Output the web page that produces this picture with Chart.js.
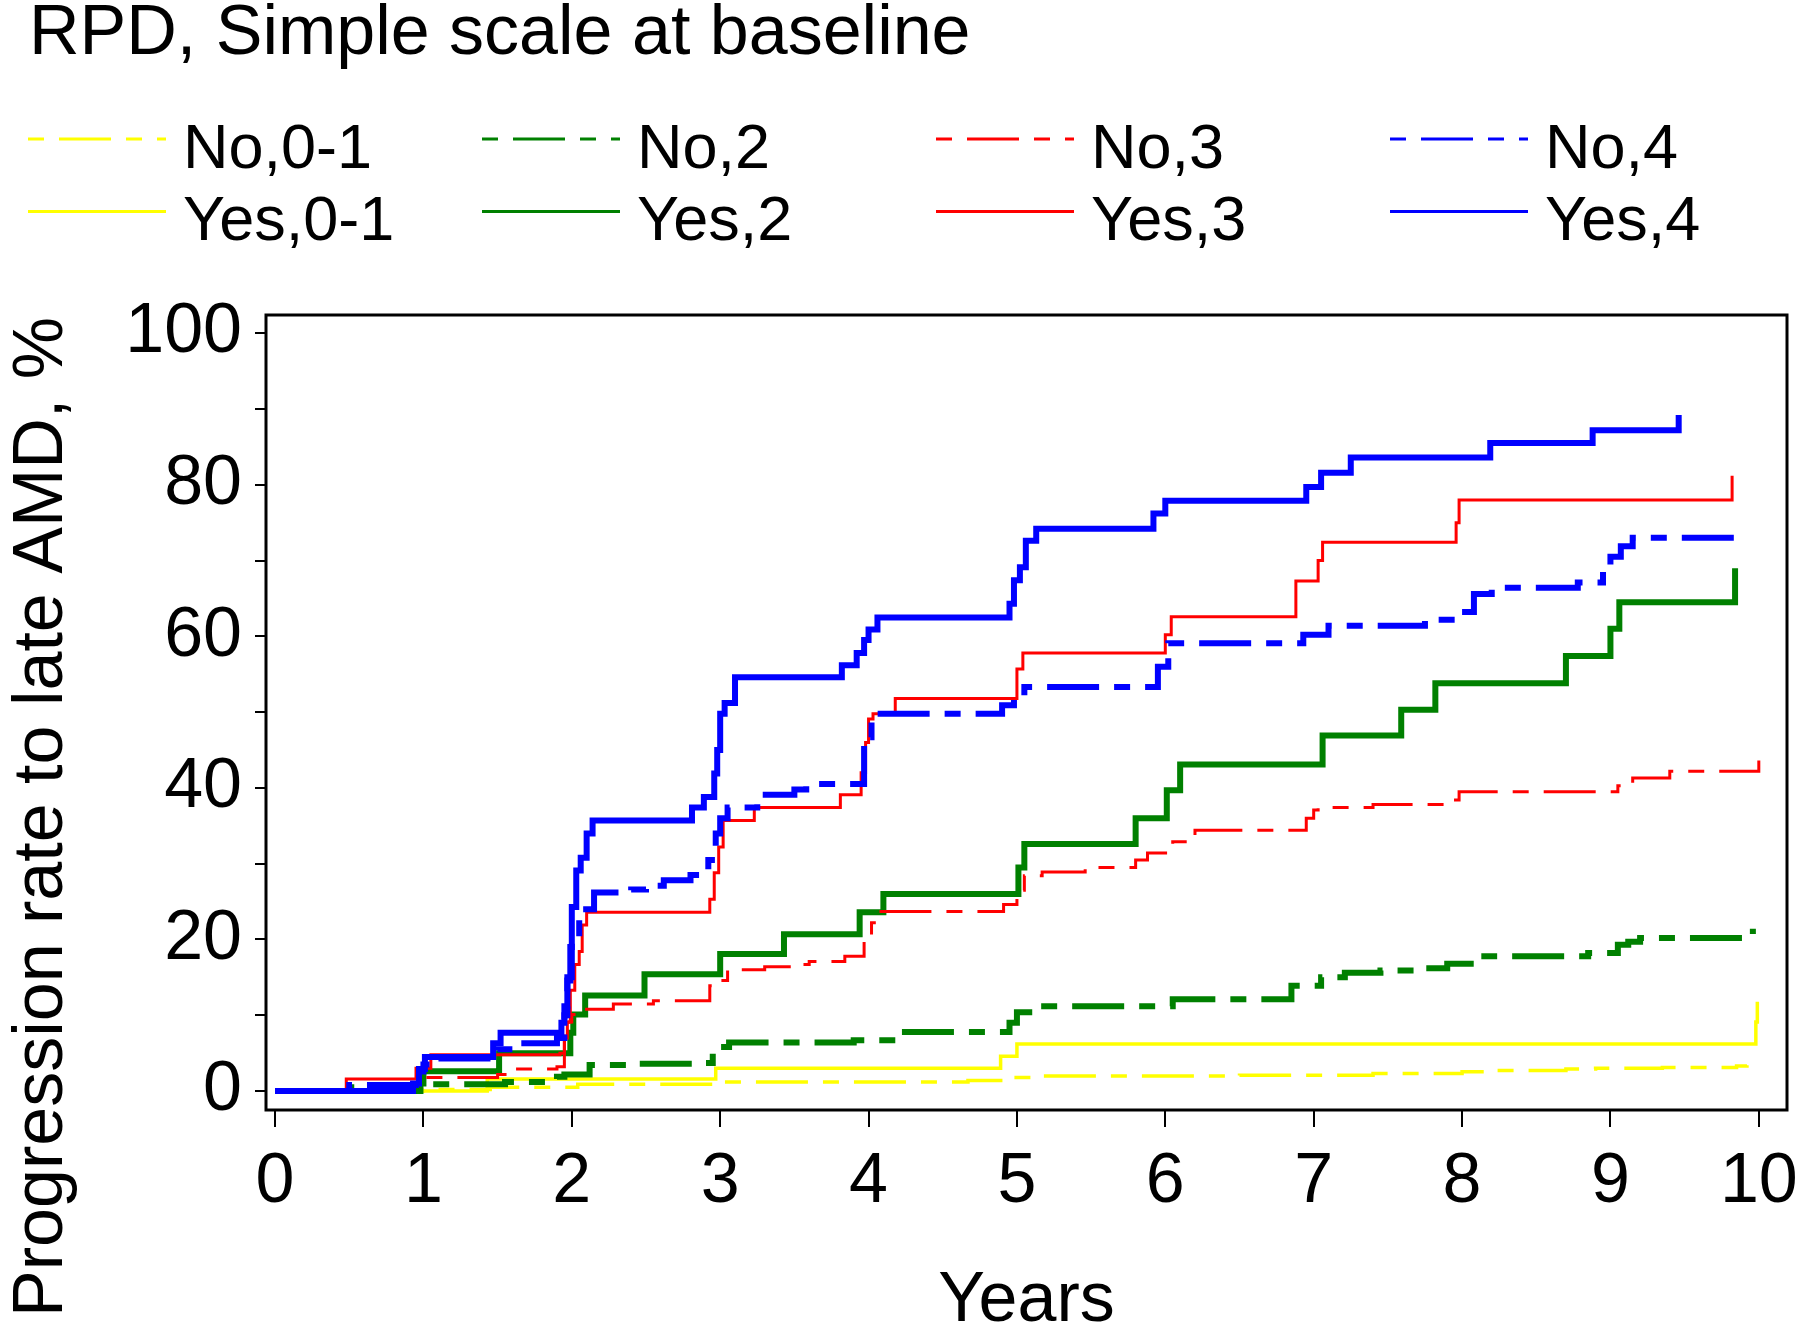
<!DOCTYPE html>
<html>
<head>
<meta charset="utf-8">
<script src="https://cdn.jsdelivr.net/npm/chart.js@4.4.1/dist/chart.umd.min.js"></script>
<style>
  html, body { margin: 0; padding: 0; background: #fff; }
  #chart { display: block; }
</style>
</head>
<body>
<canvas id="chart" width="1800" height="1332"></canvas>
<script>
// Kaplan-Meier style step curves: event times (years) and cumulative rate (%)
const no01T = [0, 1.0, 1.45, 2.04, 2.97, 4.67, 4.95, 5.12, 6.5, 7.4, 8.0, 8.2, 8.7, 8.9, 9.35, 9.85, 9.92];
const no01V = [0, 0.2, 0.5, 0.9, 1.2, 1.4, 1.8, 2.0, 2.1, 2.3, 2.55, 2.7, 2.9, 3.0, 3.1, 3.3, 3.4];

const yes01T = [0, 1.43, 2.97, 4.89, 5.0, 9.98, 9.99];
const yes01V = [0, 1.6, 3.0, 4.6, 6.2, 9.1, 11.8];

const no2T = [0, 0.5, 0.97, 1.55, 1.9, 1.95, 2.12, 2.4, 2.85, 2.95, 3.0, 3.06, 3.9, 4.16, 4.95, 5.0, 5.12, 6.05, 6.85, 7.05, 7.21, 7.45, 7.7, 7.9, 8.15, 8.85, 9.05, 9.12, 9.2, 9.9, 9.96];
const no2V = [0, 0.5, 0.9, 1.2, 1.9, 2.2, 3.45, 3.6, 3.7, 5.0, 5.8, 6.4, 6.7, 7.8, 9.0, 10.4, 11.2, 12.1, 13.9, 15.0, 15.6, 15.9, 16.2, 16.8, 17.8, 18.2, 19.3, 19.7, 20.2, 20.6, 21.4];

const yes2T = [0, 0.98, 1.0, 1.51, 1.99, 2.01, 2.09, 2.49, 3.0, 3.43, 3.94, 4.1, 5.01, 5.05, 5.8, 6.01, 6.1, 7.06, 7.59, 7.82, 8.7, 9.0, 9.06, 9.84];
const yes2V = [0, 1.0, 2.6, 5.0, 7.7, 10.1, 12.6, 15.4, 18.1, 20.7, 23.6, 26.0, 29.5, 32.6, 36.0, 39.7, 43.1, 46.9, 50.3, 53.8, 57.4, 61.0, 64.5, 69.0];

const no3T = [0, 0.5, 1.0, 1.5, 1.55, 1.9, 1.95, 1.98, 2.0, 2.1, 2.28, 2.55, 2.93, 2.97, 3.05, 3.3, 3.5, 3.6, 3.84, 3.97, 4.02, 4.07, 4.91, 5.0, 5.05, 5.17, 5.46, 5.8, 5.88, 6.05, 6.2, 6.95, 7.0, 7.03, 7.4, 7.92, 7.98, 9.05, 9.15, 9.4, 10.0];
const no3V = [0, 0.8, 1.8, 2.2, 2.9, 3.2, 7.7, 9.1, 10.1, 10.8, 11.5, 11.9, 13.9, 14.6, 16.0, 16.4, 16.7, 17.1, 17.8, 20.0, 22.2, 23.7, 24.6, 26.5, 28.4, 28.9, 29.5, 30.5, 31.4, 32.9, 34.4, 36.0, 37.1, 37.4, 37.8, 38.4, 39.5, 40.3, 41.3, 42.2, 43.6];

const yes3T = [0, 0.48, 0.95, 1.05, 1.92, 1.95, 1.97, 1.99, 2.02, 2.05, 2.07, 2.1, 2.93, 2.96, 2.99, 3.02, 3.23, 3.81, 3.95, 3.98, 4.0, 4.03, 4.18, 5.0, 5.04, 6.0, 6.04, 6.88, 7.03, 7.06, 7.96, 7.98, 9.82];
const yes3V = [0, 1.6, 3.0, 4.8, 5.0, 7.0, 9.1, 13.3, 16.7, 18.4, 21.9, 23.6, 25.3, 28.8, 32.2, 35.7, 37.4, 39.1, 42.0, 46.0, 49.1, 49.8, 51.8, 55.7, 57.8, 60.2, 62.6, 67.3, 70.0, 72.4, 75.0, 78.0, 81.2];

const no4T = [0, 0.5, 0.95, 1.0, 1.05, 1.5, 1.6, 1.9, 1.95, 1.97, 2.0, 2.05, 2.15, 2.4, 2.5, 2.62, 2.8, 2.92, 2.97, 3.0, 3.05, 3.25, 3.5, 3.58, 3.97, 4.02, 4.06, 4.9, 4.98, 5.05, 5.95, 6.02, 6.93, 7.1, 7.75, 7.98, 8.08, 8.2, 8.78, 8.95, 9.0, 9.07, 9.15, 9.85];
const no4V = [0, 0.8, 2.0, 3.5, 4.3, 5.5, 6.3, 7.0, 10.0, 15.0, 20.0, 24.0, 26.2, 26.6, 27.1, 27.8, 28.5, 30.5, 34.0, 36.0, 37.4, 39.1, 39.8, 40.5, 46.7, 49.1, 49.8, 50.9, 51.8, 53.3, 56.0, 59.1, 60.2, 61.4, 62.2, 63.2, 65.6, 66.4, 67.1, 69.2, 70.5, 71.9, 73.0, 73.0];

const yes4T = [0, 0.93, 0.97, 1.01, 1.47, 1.52, 1.93, 1.95, 1.97, 1.99, 2.0, 2.03, 2.06, 2.1, 2.14, 2.81, 2.89, 2.96, 2.98, 3.0, 3.03, 3.1, 3.82, 3.92, 3.97, 4.0, 4.06, 4.95, 4.98, 5.02, 5.06, 5.13, 5.92, 6.0, 6.95, 7.05, 7.25, 8.19, 8.88, 9.46];
const yes4V = [0, 1.0, 2.9, 4.5, 6.3, 7.7, 9.0, 11.2, 14.6, 19.0, 24.3, 29.1, 30.8, 34.0, 35.7, 37.4, 38.8, 41.9, 45.0, 49.8, 51.2, 54.6, 56.2, 57.8, 59.5, 60.9, 62.5, 64.3, 67.4, 69.1, 72.6, 74.2, 76.2, 77.9, 79.7, 81.6, 83.6, 85.5, 87.2, 89.2];

// Axis ticks and legend
const xTicks = [0, 1, 2, 3, 4, 5, 6, 7, 8, 9, 10];
const yTicks = [0, 10, 20, 30, 40, 50, 60, 70, 80, 90, 100];
const legendRows = ["No", "Yes"];
const legendGroups = ["0-1", "2", "3", "4"];
const groupColors = ["#ffff00", "#008000", "#ff0000", "#0000ff"];

const FONT = "'Liberation Sans', Arial, Helvetica, sans-serif";
const dashPattern = [52, 15, 16, 15];

Chart.defaults.font.family = FONT;
Chart.defaults.color = "#000";

function pts(T, V) {
    return T.map((t, i) => ({ x: t, y: V[i] }));
}

function series(label, T, V, color, width, dashed) {
    return {
        label: label,
        data: pts(T, V),
        borderColor: color,
        backgroundColor: color,
        borderWidth: width,
        borderDash: dashed ? dashPattern : [],
        stepped: "before",
        pointRadius: 0,
        fill: false
    };
}

// first dataset is drawn on top
const datasets = [
    series("Yes,4", yes4T, yes4V, groupColors[3], 6, false),
    series("No,4", no4T, no4V, groupColors[3], 6, true),
    series("Yes,3", yes3T, yes3V, groupColors[2], 3, false),
    series("No,3", no3T, no3V, groupColors[2], 3, true),
    series("Yes,2", yes2T, yes2V, groupColors[1], 6, false),
    series("No,2", no2T, no2V, groupColors[1], 6, true),
    series("Yes,0-1", yes01T, yes01V, groupColors[0], 3.5, false),
    series("No,0-1", no01T, no01V, groupColors[0], 3.5, true)
];

// Frame, rotated y title and two-row legend
const decorPlugin = {
    id: "decor",
    afterDraw(chart) {
        const ctx = chart.ctx;
        const a = chart.chartArea;
        ctx.save();
        ctx.strokeStyle = "#000";
        ctx.lineWidth = 3;
        ctx.strokeRect(a.left, a.top, a.right - a.left, a.bottom - a.top);

        ctx.fillStyle = "#000";
        ctx.font = "70px " + FONT;
        ctx.translate(62, 817);
        ctx.rotate(-Math.PI / 2);
        ctx.textAlign = "center";
        ctx.textBaseline = "alphabetic";
        ctx.fillText("Progression rate to late AMD, %", 0, 0);
        ctx.restore();

        ctx.save();
        ctx.font = "63px " + FONT;
        ctx.fillStyle = "#000";
        ctx.textBaseline = "alphabetic";
        legendRows.forEach((row, r) => {
            legendGroups.forEach((g, c) => {
                const label = row + "," + g;
                const ds = chart.data.datasets.find(d => d.label === label);
                const x0 = 28 + 454 * c;
                const ly = 139 + 72.5 * r;
                ctx.beginPath();
                ctx.strokeStyle = ds.borderColor;
                ctx.lineWidth = 3;
                ctx.setLineDash(ds.borderDash);
                ctx.lineDashOffset = 67;
                ctx.moveTo(x0, ly);
                ctx.lineTo(x0 + 138, ly);
                ctx.stroke();
                ctx.setLineDash([]);
                ctx.fillText(label, x0 + 155, 168 + 72 * r);
            });
        });
        ctx.restore();
    }
};

new Chart(document.getElementById("chart"), {
    type: "line",
    data: { datasets: datasets },
    options: {
        responsive: false,
        animation: false,
        devicePixelRatio: 1,
        layout: { padding: { left: 29, right: 13, top: 0, bottom: 0 } },
        plugins: {
            legend: { display: false },
            tooltip: { enabled: false },
            title: {
                display: true,
                text: "RPD, Simple scale at baseline",
                align: "start",
                color: "#000",
                font: { size: 70, weight: "normal", lineHeight: 1 },
                padding: { top: 0, bottom: 245 }
            }
        },
        scales: {
            x: {
                type: "linear",
                min: -0.061,
                max: 10.19,
                afterBuildTicks: s => { s.ticks = xTicks.map(v => ({ value: v })); },
                afterFit: s => { s.height = 222; s.paddingLeft = 0; s.paddingRight = 0; },
                border: { display: false },
                grid: {
                    display: true,
                    drawOnChartArea: false,
                    drawTicks: true,
                    tickLength: 17,
                    tickWidth: 2,
                    lineWidth: 2,
                    tickColor: "#000",
                    color: "#000"
                },
                ticks: {
                    font: { size: 70 },
                    color: "#000",
                    padding: 14,
                    maxRotation: 0,
                    minRotation: 0,
                    autoSkip: false
                },
                title: {
                    display: true,
                    text: "Years",
                    color: "#000",
                    font: { size: 70 },
                    padding: { top: 0, bottom: -12 }
                }
            },
            y: {
                type: "linear",
                min: -2.5,
                max: 102.4,
                afterBuildTicks: s => { s.ticks = yTicks.map(v => ({ value: v })); },
                afterFit: s => { s.width = 237; },
                border: { display: false },
                grid: {
                    display: true,
                    drawOnChartArea: false,
                    drawTicks: true,
                    tickLength: 11,
                    tickWidth: 2,
                    lineWidth: 2,
                    tickColor: "#000",
                    color: "#000"
                },
                ticks: {
                    font: { size: 70 },
                    color: "#000",
                    padding: 13,
                    autoSkip: false,
                    callback: v => (v % 20 === 0 ? String(v) : "")
                }
            }
        }
    },
    plugins: [decorPlugin]
});
</script>
</body>
</html>
